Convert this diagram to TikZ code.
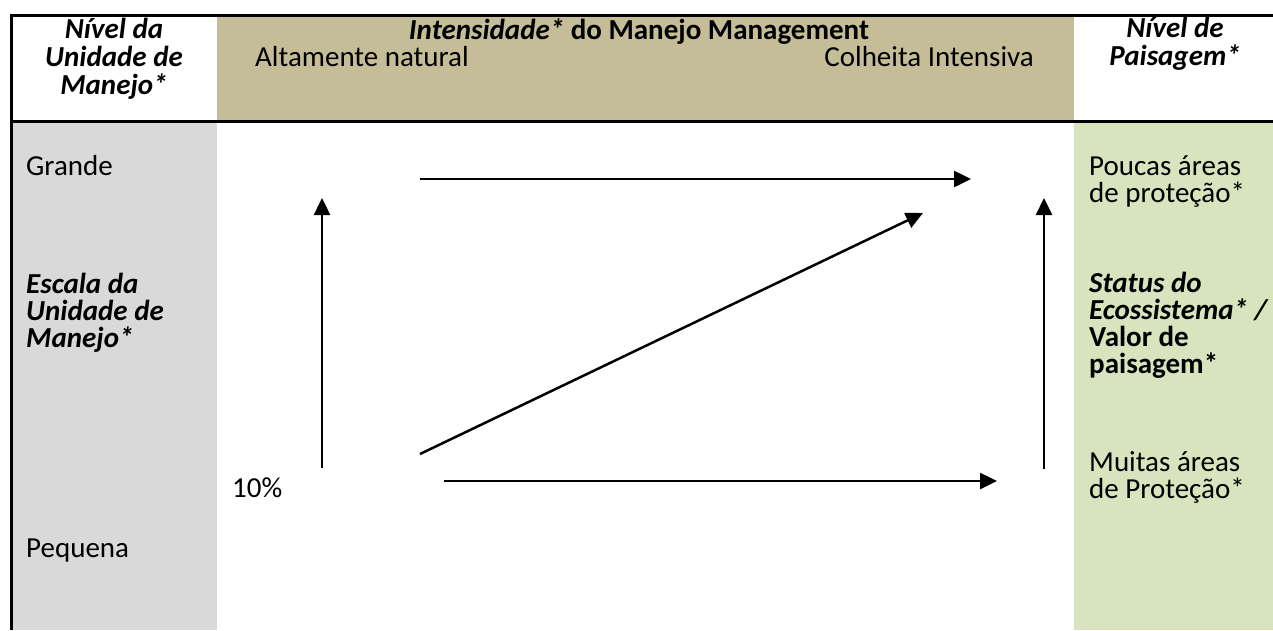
\documentclass[tikz,border=0pt]{standalone}
\usepackage{fontspec}
\setmainfont{Carlito}
\usetikzlibrary{arrows.meta}
\definecolor{tanhdr}{HTML}{C4BD97}
\definecolor{graycol}{HTML}{D9D9D9}
\definecolor{greencol}{HTML}{D7E4BD}
\begin{document}
\begin{tikzpicture}[x=1pt,y=-1pt,
  txt/.style={inner sep=0pt, font=\fontsize{29}{27}\selectfont},
  bi/.style={txt, font=\fontsize{29}{27}\selectfont\bfseries\itshape},
  rule/.style={line width=3pt, line cap=rect},
  arr/.style={line width=2.5pt, -{Triangle[length=17pt,width=16pt]}}]
\useasboundingbox (0,0) rectangle (1273,630);
% fills
\fill[tanhdr] (217,15) rectangle (1074,121);
\fill[graycol] (11,121) rectangle (217,630);
\fill[greencol] (1074,121) rectangle (1273,630);
% rules
\draw[rule] (11,15) -- (1273,15);
\draw[rule] (11,121) -- (1273,121);
\draw[line width=3pt] (11,13.5) -- (11,630);
% header texts (multi-line nodes: base = last line)
\node[bi, anchor=base, align=center, font=\fontsize{29}{28}\selectfont\bfseries\itshape] (hleft) at (114,94) {Nível da\\Unidade de\\Manejo*};
\node[txt, anchor=base] (hmid) at (639,39) {\textbf{\textit{Intensidade*} do Manejo Management}};
\node[txt, anchor=base west] (natural) at (255,66) {Altamente natural};
\node[txt, anchor=base east] (colheita) at (1034,66) {Colheita Intensiva};
\node[bi, anchor=base, align=center, font=\fontsize{29}{28}\selectfont\bfseries\itshape] (hright) at (1175,65) {Nível de\\Paisagem*};
% left column
\node[txt, anchor=base west] (grande) at (26,175) {Grande};
\node[bi, anchor=base west, align=left] (escala) at (26,347) {Escala da\\Unidade de\\Manejo*};
\node[txt, anchor=base west] (pequena) at (26,557) {Pequena};
\node[txt, anchor=base west] (ten) at (232,497) {10\%};
% right column
\node[txt, anchor=base west, align=left] (poucas) at (1089,202) {Poucas áreas\\de proteção*};
\node[txt, anchor=base west, align=left, font=\fontsize{29}{27}\selectfont\bfseries] (status) at (1089,373) {\textit{Status do}\\\textit{Ecossistema* /}\\Valor de\\paisagem*};
\node[txt, anchor=base west, align=left] (muitas) at (1089,498) {Muitas áreas\\de Proteção*};
% arrow coordinates
\coordinate (a1s) at (420,179); \coordinate (a1e) at (971,179);
\coordinate (a2s) at (322,468); \coordinate (a2e) at (322,198);
\coordinate (a3s) at (420,454); \coordinate (a3e) at (923,213);
\coordinate (a4s) at (444,481); \coordinate (a4e) at (997,481);
\coordinate (a5s) at (1044,469); \coordinate (a5e) at (1044,198);
\draw[arr] (a1s) -- (a1e);
\draw[arr] (a2s) -- (a2e);
\draw[arr] (a3s) -- (a3e);
\draw[arr] (a4s) -- (a4e);
\draw[arr] (a5s) -- (a5e);
\end{tikzpicture}
\end{document}
